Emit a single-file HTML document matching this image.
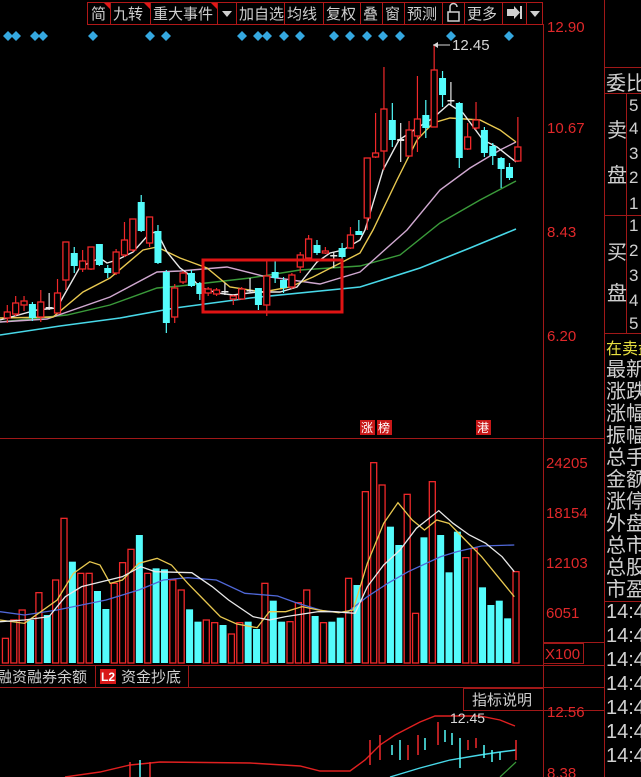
<!DOCTYPE html>
<html><head><meta charset="utf-8">
<style>
html,body{margin:0;padding:0;background:#000;}
body{width:641px;height:777px;overflow:hidden;position:relative;font-family:"Liberation Sans","Noto Sans CJK SC",sans-serif;}
svg{position:absolute;left:0;top:0;}
.tb{font-family:"Liberation Sans","Noto Sans CJK SC",sans-serif;font-size:15px;fill:#cfcfcf;}
.ax{font-family:"Liberation Sans",sans-serif;font-size:15px;fill:#e0282a;}
.rp{font-family:"Liberation Sans","Noto Sans CJK SC",sans-serif;font-size:20px;fill:#d0d0d0;}
</style></head><body>
<svg id="s" width="641" height="777" viewBox="0 0 641 777" xmlns="http://www.w3.org/2000/svg">
<rect width="641" height="777" fill="#000"/>
<g stroke="#a01818" stroke-width="1" fill="none">
<line x1="543.5" y1="24" x2="543.5" y2="777"/>
<line x1="604.5" y1="0" x2="604.5" y2="777"/>
<line x1="0" y1="438.5" x2="604" y2="438.5"/>
<line x1="0" y1="665.5" x2="604" y2="665.5"/>
<line x1="0" y1="687.5" x2="604" y2="687.5"/>
<line x1="95.5" y1="665" x2="95.5" y2="687"/>
<line x1="188.5" y1="665" x2="188.5" y2="687"/>
<rect x="463.5" y="688.5" width="80" height="22"/>
<line x1="543" y1="710.5" x2="604" y2="710.5"/>
<line x1="543" y1="642.5" x2="604" y2="642.5"/>
<rect x="543.5" y="643.5" width="40" height="20"/>
<line x1="604" y1="67.5" x2="641" y2="67.5"/>
<line x1="604" y1="93.5" x2="641" y2="93.5"/>
<line x1="626.5" y1="93" x2="626.5" y2="333"/>
<line x1="604" y1="215.5" x2="641" y2="215.5"/>
<line x1="604" y1="333.5" x2="641" y2="333.5"/>
<line x1="604" y1="601.5" x2="641" y2="601.5"/>
</g>
<g stroke="#b01818" fill="none">
<rect x="87.5" y="2.5" width="23" height="22"/>
<rect x="110.5" y="2.5" width="40" height="22"/>
<rect x="150.5" y="2.5" width="67" height="22"/>
<rect x="217.5" y="2.5" width="19" height="22"/>
<rect x="236.5" y="2.5" width="48" height="22"/>
<rect x="284.5" y="2.5" width="39" height="22"/>
<rect x="323.5" y="2.5" width="37" height="22"/>
<rect x="360.5" y="2.5" width="22" height="22"/>
<rect x="382.5" y="2.5" width="22" height="22"/>
<rect x="404.5" y="2.5" width="38" height="22"/>
<rect x="442.5" y="2.5" width="22" height="22"/>
<rect x="464.5" y="2.5" width="38" height="22"/>
<rect x="502.5" y="2.5" width="24" height="22"/>
<rect x="526.5" y="2.5" width="16" height="22"/>
</g>
<g fill="#e01818"><polygon points="104,3 110,3 110,9"/><polygon points="144,3 150,3 150,9"/><polygon points="211,3 217,3 217,9"/></g>
<g class="tb">
<text x="91" y="19">简</text><text x="113" y="19">九转</text><text x="153" y="19">重大事件</text>
<text x="239" y="19">加自选</text><text x="287" y="19">均线</text><text x="326" y="19">复权</text>
<text x="363" y="19">叠</text><text x="385" y="19">窗</text><text x="407" y="19">预测</text><text x="467" y="19">更多</text>
</g>
<g fill="#cfcfcf"><polygon points="222,11 232,11 227,17"/><polygon points="530,11 540,11 535,17"/>
<rect x="507" y="9" width="7" height="7"/><polygon points="514,6 520,12.5 514,19"/><rect x="520" y="6" width="2" height="13"/></g>
<g stroke="#cfcfcf" fill="none" stroke-width="1.5"><rect x="448" y="12" width="11" height="9"/><path d="M450,12 V7 a3.5,3.5 0 0 1 7,0"/></g>
<g class="ax">
<text x="547" y="32">12.90</text><text x="547" y="133">10.67</text><text x="547" y="237">8.43</text><text x="547" y="341">6.20</text>
<text x="546" y="468">24205</text><text x="546" y="518">18154</text><text x="546" y="568">12103</text><text x="546" y="618">6051</text>
<text x="545" y="659">X100</text>
<text x="547" y="717">12.56</text><text x="547" y="778">8.38</text>
</g>
<g class="rp">
<text x="606" y="90">委比</text>
<text x="607" y="137">卖</text><text x="607" y="182">盘</text>
<text x="607" y="259">买</text><text x="607" y="300">盘</text>
<g font-size="17"><text x="629" y="111">5</text><text x="629" y="134">4</text><text x="629" y="159">3</text><text x="629" y="183">2</text><text x="629" y="209">1</text>
<text x="629" y="231">1</text><text x="629" y="256">2</text><text x="629" y="281">3</text><text x="629" y="306">4</text><text x="629" y="329">5</text></g>
<text x="606" y="354" font-size="16" fill="#e8e040">在卖盘</text>
<text x="606" y="376">最新</text><text x="606" y="398">涨跌</text><text x="606" y="420">涨幅</text><text x="606" y="442">振幅</text>
<text x="606" y="464">总手</text><text x="606" y="486">金额</text><text x="606" y="508">涨停</text><text x="606" y="530">外盘</text>
<text x="606" y="552">总市</text><text x="606" y="574">总股</text><text x="606" y="596">市盈</text>
<text x="606" y="618">14:4</text><text x="606" y="642">14:4</text><text x="606" y="666">14:4</text><text x="606" y="690">14:4</text>
<text x="606" y="714">14:4</text><text x="606" y="738">14:4</text><text x="606" y="762">14:4</text>
</g>
<g font-family="Liberation Sans,Noto Sans CJK SC,sans-serif" font-size="15" fill="#cfcfcf">
<text x="-3" y="682">融资融券余额</text>
<rect x="100" y="669" width="16" height="15" fill="#d81818"/>
<text x="101" y="681" font-size="12" fill="#fff" font-weight="bold">L2</text>
<text x="121" y="682">资金抄底</text>
<text x="472" y="705">指标说明</text>
</g>
<g font-family="Liberation Sans,Noto Sans CJK SC,sans-serif" font-size="12" fill="#fff">
<rect x="360" y="420" width="15" height="15" fill="#c81818"/><rect x="377" y="420" width="15" height="15" fill="#c81818"/><rect x="476" y="420" width="15" height="15" fill="#c81818"/>
<text x="361" y="432">涨</text><text x="378" y="432">榜</text><text x="477" y="432">港</text>
</g>
<g id="dyn"></g>
<g fill="#d8d8d8" font-family="Liberation Sans,sans-serif" font-size="15">
<text x="452" y="50">12.45</text>
<line x1="433" y1="45" x2="450" y2="45" stroke="#d8d8d8"/><polygon points="433,45 438,42 438,48"/>
<text x="450" y="723" font-size="14">12.45</text>
</g>
<rect x="203" y="260" width="139" height="52" fill="none" stroke="#e01414" stroke-width="3"/>
</svg>
<script>
var NS="http://www.w3.org/2000/svg",g=document.getElementById("dyn");
function el(t,a){var e=document.createElementNS(NS,t);for(var k in a)e.setAttribute(k,a[k]);g.appendChild(e);return e;}
var R="#f0282a",C="#54fcfc",W="#e8e8e8";
[8,16,35,43,93,150,166,242,258,267,284,300,334,350,367,383,400,451,509].forEach(function(x){el("polygon",{points:(x)+",31 "+(x+5)+",36 "+x+",41 "+(x-5)+",36",fill:"#35a8e0"});});
function pl(pts,c,w){el("polyline",{points:pts.map(function(p){return p.join(",")}).join(" "),fill:"none",stroke:c,"stroke-width":w||1.3});}
pl([[0,335],[60,326],[120,318],[175,308],[250,298],[360,287],[420,268],[470,248],[516,229]],"#48d8e8",1.6);
pl([[0,322],[67,315],[110,305],[157,288],[180,286],[250,278],[300,270],[360,266],[400,255],[440,223],[480,200],[516,181]],"#3a9a3a",1.4);
pl([[0,322],[47,319],[110,297],[157,272],[180,271],[227,267],[263,276],[320,284],[360,272],[407,230],[440,190],[470,168],[500,150],[516,142]],"#d0a8d0",1.4);
pl([[0,318],[53,317],[83,292],[110,278],[143,250],[157,247],[180,258],[207,268],[230,287],[263,292],[290,287],[313,277],[360,253],[373,230],[397,180],[417,140],[433,123],[450,118],[480,120],[500,130],[516,142]],"#e8c850",1.4);
pl([[0,320],[37,310],[57,308],[63,297],[80,267],[100,258],[107,263],[117,260],[133,252],[150,233],[157,232],[167,252],[180,268],[187,273],[200,287],[217,293],[233,295],[257,292],[280,292],[297,287],[317,262],[330,253],[343,250],[360,240],[365,230],[383,170],[399,140],[417,128],[433,118],[449,104],[463,113],[483,140],[497,147],[516,162]],W,1.4);
var cd=[[0,'r',312,318,305,323],[1,'r',303,314,296,316],[2,'r',301,305,296,311],[3,'c',304,318,302,321],[4,'r',302,317,290,322],[5,'w',307,308,293,310],[6,'r',293,313,279,313],[7,'r',242,280,242,290],[8,'c',253,266,247,273],[9,'r',261,269,250,272],[10,'r',247,269,247,270],[11,'c',244,265,244,266],[12,'c',268,273,265,278],[13,'r',252,273,249,275],[14,'r',240,255,222,257],[15,'r',219,250,219,252],[16,'c',202,231,195,232],[17,'r',217,243,217,247],[18,'c',231,263,225,264],[19,'c',272,323,270,333],[20,'r',288,317,284,323],[21,'r',273,282,271,284],[22,'c',273,286,270,287],[23,'c',283,294,282,300],[24,'r',289,293,287,296],[25,'r',290,294,288,296],[26,'w',291,292,283,295],[27,'r',296,299,295,305],[28,'r',289,299,287,300],[29,'w',290,291,278,292],[30,'c',288,305,288,310],[31,'r',276,305,260,316],[32,'c',272,278,261,283],[33,'c',280,288,277,293],[34,'r',275,287,273,289],[35,'r',255,267,252,273],[36,'r',239,258,235,260],[37,'c',245,253,240,255],[38,'r',251,253,247,254],[39,'w',255,256,252,268],[40,'c',248,257,243,262],[41,'r',235,248,227,249],[42,'c',231,235,220,235],[43,'r',158,218,158,230],[44,'r',153,157,113,158],[45,'r',109,151,67,170],[46,'c',120,140,103,147],[47,'w',139,141,123,162],[48,'r',130,156,121,157],[49,'r',119,136,76,152],[50,'c',115,128,100,138],[51,'r',70,127,45,127],[52,'c',78,95,71,107],[53,'w',100,101,82,105],[54,'c',103,158,102,168],[55,'r',137,149,123,150],[56,'r',120,128,102,130],[57,'c',130,153,127,157],[58,'c',146,156,143,165],[59,'c',158,169,157,188],[60,'c',167,178,163,180],[61,'r',147,161,117,162]];
cd.forEach(function(d){var x=7.3+8.37*d[0],col=d[1]=='r'?R:(d[1]=='c'?C:W);
 el("line",{x1:x,y1:d[4],x2:x,y2:d[5],stroke:col,"stroke-width":1.2});
 var h=Math.max(d[3]-d[2],1.5);
 if(d[1]=='r')el("rect",{x:x-3,y:d[2],width:6,height:h,fill:"#000",stroke:col,"stroke-width":1.3});
 else el("rect",{x:x-3.5,y:d[2],width:7,height:h,fill:col});});
var vs=[['r',595],['r',540],['r',510],['c',540],['r',458],['c',525],['r',420],['r',235],['c',365],['r',400],['r',400],['c',453],['c',507],['r',430],['r',368],['r',328],['c',285],['r',400],['c',385],['c',388],['r',420],['r',450],['c',508],['c',545],['r',540],['r',548],['c',555],['r',582],['r',548],['c',545],['c',567],['r',430],['c',482],['c',545],['r',545],['r',488],['r',450],['c',528],['r',548],['c',545],['c',533],['r',415],['c',435],['r',155],['r',68],['r',135],['c',260],['c',315],['r',163],['r',520],['c',292],['r',125],['c',285],['c',397],['c',275],['r',353],['r',325],['c',442],['c',495],['c',482],['c',535],['r',395]];
vs.forEach(function(v,j){var x=516-(61-j)*8.37,y=440+v[1]/3,h=663-y;
 if(v[0]=='r')el("rect",{x:x-3,y:y,width:6,height:h,fill:"#000",stroke:R,"stroke-width":1.3});
 else el("rect",{x:x-3.5,y:y,width:7,height:h,fill:C});});
function vp(a,c){pl(a.map(function(p){return[p[0]/2.45,440+p[1]/3]}),c,1.3);}
vp([[0,515],[60,525],[140,510],[200,495],[260,480],[340,450],[400,420],[460,413],[530,420],[600,460],[680,468],[730,490],[790,512],[850,518],[900,470],[950,430],[1000,395],[1080,350],[1120,335],[1180,318],[1260,315]],"#5068d8");
vp([[0,540],[60,550],[100,515],[140,480],[180,400],[220,365],[245,375],[270,430],[300,420],[340,370],[385,355],[420,375],[460,430],[500,480],[540,530],[580,552],[630,563],[660,515],[700,515],[740,500],[780,510],[830,518],[865,510],[900,370],[940,250],[975,188],[1010,240],[1040,270],[1070,240],[1100,250],[1140,300],[1180,350],[1220,410],[1260,470]],"#e8c850");
vp([[0,545],[60,540],[120,530],[160,470],[200,440],[250,425],[300,410],[345,380],[380,395],[470,398],[520,440],[560,480],[620,530],[660,540],[700,530],[780,515],[820,515],[870,520],[900,440],[940,375],[980,330],[1020,265],[1075,212],[1110,250],[1150,285],[1190,310],[1230,350],[1260,395]],W);
pl([[65,777],[100,772],[130,765],[160,762],[250,763],[300,766],[320,771],[350,771],[365,760],[380,745],[395,735],[420,722],[435,716],[450,716],[480,716],[500,720],[515,726]],"#e02020",1.4);
pl([[390,777],[420,768],[450,760],[480,755],[500,752],[516,750]],"#48d8e8",1.4);
pl([[500,777],[516,762]],"#3a9a3a",1.2);
[[370,740,765,'r'],[380,735,760,'r'],[392,745,755,'c'],[400,740,760,'c'],[408,745,760,'r'],[418,735,755,'r'],[425,738,750,'c'],[438,722,745,'r'],[445,730,742,'c'],[452,733,745,'c'],[460,738,768,'c'],[468,740,750,'r'],[476,738,748,'r'],[484,745,758,'c'],[492,750,762,'c'],[500,752,760,'c'],[516,740,760,'r'],[130,762,777,'r'],[140,760,777,'c'],[150,762,777,'r']].forEach(function(b){el("line",{x1:b[0],y1:b[1],x2:b[0],y2:b[2],stroke:b[3]=='r'?R:C,"stroke-width":1.5});});
</script>
</body></html>
